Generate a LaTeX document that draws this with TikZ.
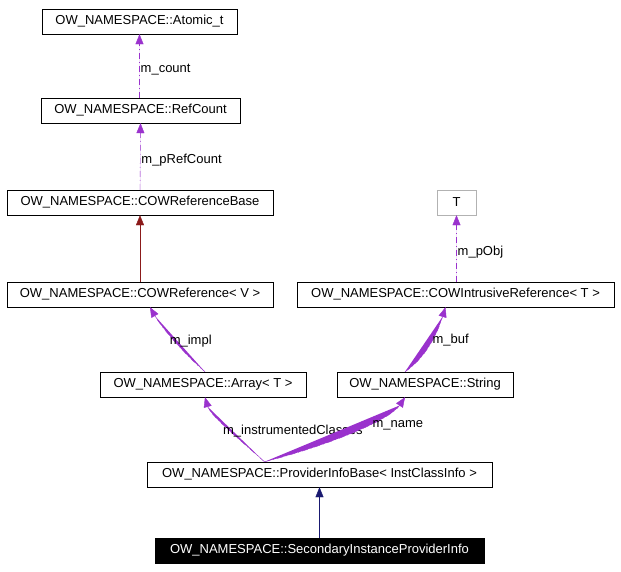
\documentclass[tikz,border=0pt]{standalone}
\usepackage{fontspec}
\setmainfont{Liberation Sans}
\usetikzlibrary{arrows.meta}
\definecolor{edgepurple}{HTML}{9A32CD}
\definecolor{edgered}{HTML}{8B1A1A}
\definecolor{edgeblue}{HTML}{191970}

\begin{document}
\begin{tikzpicture}[x=1pt,y=-1pt,font=\fontsize{13}{15}\selectfont,>={Triangle[length=10pt,width=8pt]}]
\tikzstyle{cls}=[draw,inner sep=0pt,minimum height=25pt]
\tikzstyle{use}=[draw=edgepurple,fill=edgepurple,dash pattern=on 6pt off 3pt on 1pt off 3pt,->]
\tikzstyle{lbl}=[font=\fontsize{13}{15}\selectfont,inner sep=1pt,fill=none]
\useasboundingbox (0,0) rectangle (621,571);
\node[cls,minimum width=195pt] (atomic) at (139.5,21.5) {OW\_NAMESPACE::Atomic\_t};
\node[cls,minimum width=199pt] (refcount) at (140.5,110.5) {OW\_NAMESPACE::RefCount};
\node[cls,minimum width=266pt] (cowbase) at (140,202.5) {OW\_NAMESPACE::COWReferenceBase};
\node[cls,minimum width=266pt] (cowref) at (140,294.5) {OW\_NAMESPACE::COWReference< V >};
\node[cls,draw=gray!60,minimum width=39pt] (t) at (456.5,202.5) {T};
\node[cls,minimum width=317pt] (cowintr) at (455.5,294.5) {OW\_NAMESPACE::COWIntrusiveReference< T >};
\node[cls,minimum width=206pt] (array) at (203,384.5) {OW\_NAMESPACE::Array< T >};
\node[cls,minimum width=176pt] (string) at (425,384.5) {OW\_NAMESPACE::String};
\node[cls,minimum width=345pt] (pibase) at (319.5,474.5) {OW\_NAMESPACE::ProviderInfoBase< InstClassInfo >};
\node[cls,fill=black,text=white,minimum width=329pt] (secondary) at (319.5,550.5) {OW\_NAMESPACE::SecondaryInstanceProviderInfo};

%\draw[use] (refcount) -- (atomic);
\draw[use] (refcount.north -| atomic.south) -- node[lbl,right,pos=0.45] {m\_count} (atomic.south);
\draw[use] (cowbase.north) -- node[lbl,right,pos=0.45] {m\_pRefCount} (refcount.south);
\draw[draw=edgered,fill=edgered,->] (cowref.north) -- (cowbase.south);
\draw[use] (cowintr.north -| t.south) -- node[lbl,right,pos=0.45] {m\_pObj} (t.south);
\draw[use] ([xshift=2pt]array.north) .. controls (180,350) and (160,325) .. node[lbl,pos=0.45,xshift=16pt] {m\_impl} ([xshift=10pt]cowref.south);
\draw[use] ([xshift=-20pt]string.north) .. controls (430,355) and (440,325) .. node[lbl,pos=0.5,xshift=18pt] {m\_buf} ([xshift=-10pt]cowintr.south);
\draw[use] ([xshift=-55pt]pibase.north) .. controls (240,440) and (210,415) .. node[lbl,pos=0.45,xshift=62pt] {m\_instrumentedClasses} ([xshift=2pt]array.south);
\draw[use] ([xshift=-55pt]pibase.north) .. controls (330,445) and (390,420) .. node[lbl,pos=0.6,xshift=30pt] {m\_name} ([xshift=-20pt]string.south);
\draw[draw=edgeblue,fill=edgeblue,->] (secondary.north) -- (pibase.south);
\end{tikzpicture}
\end{document}
